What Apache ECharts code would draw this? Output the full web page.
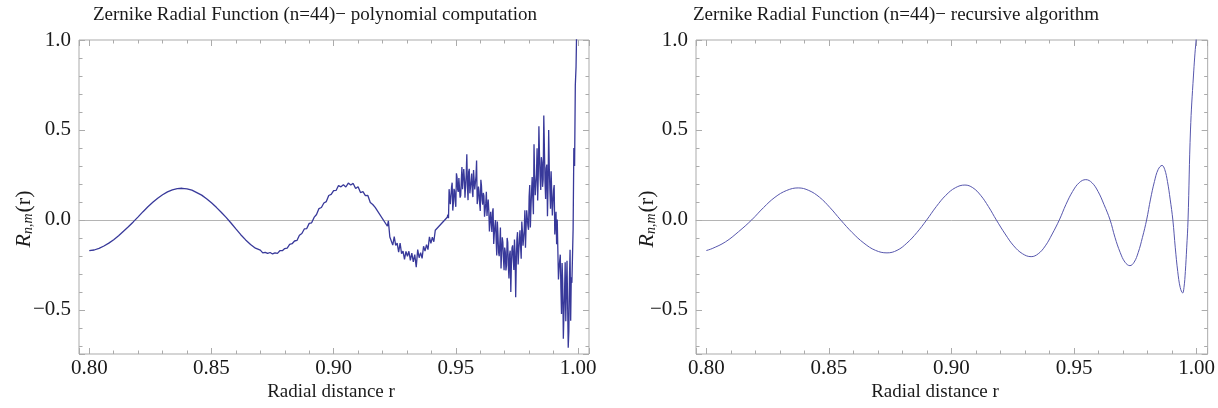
<!DOCTYPE html>
<html><head><meta charset="utf-8">
<script src="https://cdn.jsdelivr.net/npm/echarts@6/dist/echarts.min.js"></script>
<style>html,body{margin:0;padding:0;background:#fff}#c{width:1218px;height:408px}</style>
</head><body><div id="c"></div>
<script>
// ---- data ----
const titles = ['Zernike Radial Function (n=44)\u2212 polynomial computation',
                'Zernike Radial Function (n=44)\u2212 recursive algorithm'];
const xAxisTitle = 'Radial distance r';
const yAxisTitle = '{i|R}{s|n,m}{t|(r)}';
const xTickLabels = ['0.80', '0.85', '0.90', '0.95', '1.00'];
const yTickLabels = ['\u22120.5', '0.0', '0.5', '1.0'];

// left panel: polynomial computation (noisy)
const polyR = [
0.800,0.802,0.804,0.806,0.808,0.810,0.812,0.814,0.816,0.818,
0.820,0.822,0.824,0.826,0.828,0.830,0.832,0.834,0.836,0.838,
0.840,0.842,0.844,0.846,0.848,0.850,0.852,0.854,0.856,0.858,
0.860,0.862,0.864,0.866,0.868,
0.870,0.871,0.872,0.873,0.874,0.875,0.876,0.877,0.878,0.879,
0.880,0.881,0.882,0.883,0.884,0.885,0.886,0.887,0.888,0.889,
0.890,0.891,0.892,0.893,0.894,0.895,0.896,0.897,0.898,0.899,
0.900,0.901,0.902,0.903,0.904,0.905,0.906,0.907,0.908,0.909,
0.910,0.911,0.912,0.913,0.914,0.915,0.916,0.917,
0.9220,0.9224,0.9230,0.9236,0.9242,0.9248,0.9254,0.9260,0.9266,0.9272,
0.9278,0.9284,0.9290,0.9296,0.9302,0.9308,0.9314,0.9320,0.9326,0.9332,
0.9338,0.9344,0.9350,0.9356,0.9362,0.9368,0.9374,0.9380,0.9386,0.9392,
0.9398,0.9404,0.9410,0.9416,
0.94650,0.94675,0.94700,0.94725,0.94750,0.94775,0.94800,0.94825,0.94850,0.94875,
0.94900,0.94925,0.94950,0.94975,0.95000,0.95025,0.95050,0.95075,0.95100,0.95125,
0.95150,0.95175,0.95200,0.95225,0.95250,0.95275,0.95300,0.95325,0.95350,0.95375,
0.95400,0.95425,0.95450,0.95475,0.95500,0.95525,0.95550,0.95575,0.95600,0.95625,
0.95650,0.95675,0.95700,0.95725,0.95750,0.95775,0.95800,0.95825,0.95850,0.95875,
0.95900,0.95925,0.95950,0.95975,0.96000,0.96025,0.96050,0.96075,0.96100,0.96125,
0.96150,0.96175,0.96200,0.96225,0.96250,0.96275,0.96300,0.96325,0.96350,0.96375,
0.96400,0.96425,0.96450,0.96475,0.96500,0.96525,0.96550,0.96575,0.96600,0.96625,
0.96650,0.96675,0.96700,0.96725,0.96750,0.96775,0.96800,0.96825,0.96850,0.96875,
0.96900,0.96925,0.96950,0.96975,0.97000,0.97025,0.97050,0.97075,0.97100,0.97125,
0.97150,0.97175,0.97200,0.97225,0.97250,0.97275,0.97300,0.97325,0.97350,0.97375,
0.97400,0.97425,0.97450,0.97475,0.97500,0.97525,0.97550,0.97575,0.97600,0.97625,
0.97650,0.97675,0.97700,0.97725,0.97750,0.97775,0.97800,0.97825,0.97850,0.97875,
0.97900,0.97925,0.97950,0.97975,0.98000,0.98025,0.98050,0.98075,0.98100,0.98125,
0.98150,0.98175,0.98200,0.98225,0.98250,0.98275,0.98300,0.98325,0.98350,0.98375,
0.98400,0.98425,0.98450,0.98475,0.98500,0.98525,0.98550,0.98575,0.98600,0.98625,
0.98650,0.98675,0.98700,0.98725,0.98750,0.98775,0.98800,0.98825,0.98850,0.98875,
0.98900,0.98925,0.98950,0.98975,0.99000,0.99025,0.99050,0.99075,0.99100,0.99125,
0.99150,0.99175,0.99200,0.99225,0.99250,0.99275,0.99300,0.99325,0.99350,0.99375,
0.99400,0.99425,0.99450,0.99475,0.99500,0.99525,0.99550,0.99575,0.99600,0.99625,
0.99650,0.99675,0.99700,0.99725,0.99750,
0.9980,0.9983,0.9986,0.9989,0.9992,0.9995
];
const polyV = [
-0.171,-0.167,-0.158,-0.145,-0.129,-0.110,-0.088,-0.063,-0.038,-0.011,
0.017,0.046,0.073,0.098,0.121,0.140,0.156,0.167,0.174,0.176,
0.173,0.166,0.152,0.138,0.118,0.095,0.070,0.043,0.014,-0.017,
-0.050,-0.082,-0.111,-0.136,-0.157,
-0.168,-0.183,-0.180,-0.186,-0.181,-0.189,-0.183,-0.186,-0.171,-0.171,
-0.159,-0.156,-0.136,-0.132,-0.117,-0.114,-0.085,-0.075,-0.050,-0.048,
-0.019,-0.016,0.014,0.030,0.063,0.069,0.094,0.102,0.136,0.142,
0.163,0.164,0.191,0.184,0.195,0.183,0.205,0.194,0.203,0.175,
0.185,0.152,0.157,0.135,0.136,0.097,0.086,0.070,
-0.035,-0.005,-0.095,-0.087,-0.140,-0.093,-0.142,-0.129,-0.179,-0.129,
-0.187,-0.173,-0.219,-0.175,-0.202,-0.174,-0.225,-0.184,-0.233,-0.193,
-0.262,-0.165,-0.210,-0.182,-0.214,-0.146,-0.173,-0.137,-0.165,-0.094,
-0.130,-0.096,-0.121,-0.057,
0.015,0.029,0.010,0.171,0.125,0.087,0.094,0.182,0.207,0.052,
0.095,0.173,0.161,0.104,0.073,0.259,0.237,0.170,0.156,0.233,
0.228,0.124,0.136,0.220,0.294,0.171,0.173,0.283,0.230,0.123,
0.133,0.251,0.365,0.188,0.110,0.267,0.284,0.148,0.155,0.216,
0.258,0.157,0.127,0.277,0.219,0.170,0.165,0.242,0.330,0.088,
0.118,0.185,0.161,0.092,0.050,0.223,0.189,0.110,0.085,0.150,
0.134,0.018,0.019,0.092,0.156,0.022,0.014,0.114,0.052,-0.064,
-0.064,0.045,0.045,-0.067,0.043,0.065,-0.133,-0.078,-0.033,0.000,
-0.110,-0.197,-0.009,-0.084,-0.181,-0.201,-0.133,-0.042,-0.270,-0.178,
-0.097,-0.125,-0.219,-0.280,-0.153,-0.179,-0.281,-0.251,-0.100,-0.124,
-0.258,-0.325,-0.193,-0.171,-0.400,-0.245,-0.155,-0.141,-0.215,-0.278,
-0.109,-0.181,-0.430,-0.235,-0.108,-0.068,-0.248,-0.174,-0.111,-0.058,
-0.148,-0.216,-0.009,-0.065,-0.143,-0.143,-0.055,0.054,-0.155,-0.045,
0.054,0.043,-0.033,-0.055,0.129,0.194,-0.042,0.067,0.160,0.238,
0.121,0.032,0.420,0.243,0.137,0.135,0.252,0.398,0.108,0.251,
0.520,0.354,0.239,0.167,0.349,0.319,0.184,0.227,0.580,0.399,
0.213,0.116,0.288,0.308,0.020,0.180,0.500,0.288,0.168,0.062,
0.271,0.148,0.025,0.022,0.168,0.194,-0.081,-0.010,0.045,-0.135,
0.002,0.005,-0.331,-0.271,-0.227,-0.193,-0.380,-0.523,-0.240,-0.354,
-0.660,-0.519,-0.400,-0.235,-0.563,-0.387,-0.227,-0.227,-0.710,-0.620,
-0.329,-0.166,-0.560,-0.318,-0.350,
-0.050,0.400,0.300,0.750,0.850,1.100
];

// right panel: recursive algorithm (smooth)
const recR = [
0.800,0.8024,0.8078,0.8131,0.8185,0.8233,0.8280,0.8328,0.8375,0.8418,
0.8462,0.8505,0.8548,0.8595,0.8643,0.8690,0.8737,0.8778,0.8818,0.8859,
0.8899,0.8938,0.8977,0.9016,0.9055,0.9087,0.9119,0.9151,0.9183,0.9219,
0.9254,0.9290,0.9325,0.9354,0.9383,0.9411,0.9440,0.9467,0.9494,0.9521,
0.9548,0.9573,0.9598,0.9622,0.9647,0.9667,0.9688,0.9708,0.9728,0.9745,
0.9762,0.9779,0.9796,0.9812,0.9828,0.9843,0.9859,0.9870,0.9881,0.9892,
0.9903,0.9913,0.9923,0.9933,0.9943,0.99485,0.9954,0.99595,0.9965,0.9975,
0.9987,0.9998,1.0004
];
const recV = [
-0.170,-0.159,-0.122,-0.066,0.000,0.068,0.126,0.164,0.178,0.164,
0.126,0.068,0.000,-0.070,-0.129,-0.169,-0.183,-0.169,-0.129,-0.070,
0.000,0.074,0.137,0.179,0.194,0.179,0.137,0.074,0.000,-0.078,
-0.144,-0.188,-0.204,-0.188,-0.144,-0.078,0.000,0.086,0.158,0.207,
0.224,0.207,0.158,0.086,0.000,-0.097,-0.180,-0.235,-0.254,-0.235,
-0.180,-0.097,0.000,0.116,0.214,0.280,0.303,0.280,0.214,0.116,
0.000,-0.155,-0.287,-0.375,-0.406,-0.375,-0.287,-0.155,0.000,0.500,
0.800,1.000,1.050
];

// ---- chart ----
const SERIF = '"Liberation Serif", "DejaVu Serif", serif';
const FRAME = '#ababab';
const TEXT = '#1a1a1a';
const X_MIN = 0.7958, X_MAX = 1.0045, Y_MIN = -0.745, Y_MAX = 1.0;

function xLabel(v) {
  const k = Math.round(v / 0.05);
  if (Math.abs(v - k * 0.05) > 1e-6) return '';
  const i = k - 16;
  return (i >= 0 && i < xTickLabels.length) ? xTickLabels[i] : '';
}
function yLabel(v) {
  const k = Math.round(v / 0.5);
  if (Math.abs(v - k * 0.5) > 1e-6) return '';
  const i = k + 1;
  return (i >= 0 && i < yTickLabels.length) ? yTickLabels[i] : '';
}
const tickStyle = { show: true, inside: true, length: 6, lineStyle: { color: FRAME, width: 1 } };
const minorStyle = { show: true, length: 3.5, lineStyle: { color: FRAME, width: 1 } };

function makeX(gridIndex, yIdx) {
  const base = { type: 'value', gridIndex, min: X_MIN, max: X_MAX, splitNumber: 4,
    splitLine: { show: false } };
  return [
    Object.assign({}, base, { position: 'bottom',
      axisLine: { show: false, onZero: false },
      axisTick: tickStyle, minorTick: Object.assign({ splitNumber: 5 }, minorStyle),
      axisLabel: { formatter: xLabel, fontFamily: SERIF, fontSize: 21, color: TEXT, margin: 4 } }),
    Object.assign({}, base, { position: 'top',
      axisLine: { show: false, onZero: false },
      axisTick: tickStyle, minorTick: Object.assign({ splitNumber: 5 }, minorStyle),
      axisLabel: { show: false } }),
    Object.assign({}, base, { position: 'bottom',
      axisLine: { show: true, onZero: true, onZeroAxisIndex: yIdx, lineStyle: { color: '#b4b4b4', width: 1 } },
      axisTick: { show: false }, minorTick: { show: false }, axisLabel: { show: false } })
  ];
}
function makeY(gridIndex) {
  const base = { type: 'value', gridIndex, min: Y_MIN, max: Y_MAX, splitNumber: 3,
    splitLine: { show: false }, axisLine: { show: false, onZero: false },
    axisTick: tickStyle, minorTick: Object.assign({ splitNumber: 5 }, minorStyle) };
  return [
    Object.assign({}, base, { position: 'left',
      axisLabel: { formatter: yLabel, fontFamily: SERIF, fontSize: 21, color: TEXT, margin: 8 } }),
    Object.assign({}, base, { position: 'right', axisLabel: { show: false } })
  ];
}
const yNameRich = {
  i: { fontFamily: SERIF, fontStyle: 'italic', fontSize: 22, fill: TEXT, color: TEXT, verticalAlign: 'bottom', lineHeight: 26 },
  s: { fontFamily: SERIF, fontStyle: 'italic', fontSize: 14, fill: TEXT, color: TEXT, verticalAlign: 'bottom', lineHeight: 18, padding: [0, 1, 0, 0] },
  t: { fontFamily: SERIF, fontSize: 22, fill: TEXT, color: TEXT, verticalAlign: 'bottom', lineHeight: 26 }
};
function yName(x) {
  return { type: 'text', x: x, y: 219, rotation: Math.PI / 2, silent: true,
    style: { text: yAxisTitle, rich: yNameRich, align: 'center', verticalAlign: 'middle', fill: TEXT } };
}
function xName(x) {
  return { type: 'text', x: x, y: 392, silent: true,
    style: { text: xAxisTitle, font: '19px ' + SERIF, fill: TEXT, align: 'center', verticalAlign: 'middle' } };
}

const chart = echarts.init(document.getElementById('c'), null, { renderer: 'canvas' });
chart.setOption({
  animation: false,
  backgroundColor: '#ffffff',
  title: [
    { text: titles[0], left: 88, top: 1, textStyle: { fontFamily: SERIF, fontSize: 19, fontWeight: 'normal', color: TEXT } },
    { text: titles[1], left: 688, top: 1, textStyle: { fontFamily: SERIF, fontSize: 19, fontWeight: 'normal', color: TEXT } }
  ],
  grid: [
    { left: 79, top: 40, width: 510, height: 314, show: true, borderColor: FRAME, borderWidth: 1, backgroundColor: 'transparent' },
    { left: 696, top: 40, width: 515, height: 314, show: true, borderColor: FRAME, borderWidth: 1, backgroundColor: 'transparent' }
  ],
  xAxis: [].concat(makeX(0, 0), makeX(1, 2)),
  yAxis: [].concat(makeY(0), makeY(1)),
  graphic: [yName(22), yName(645), xName(331), xName(935)],
  series: [
    { type: 'line', xAxisIndex: 0, yAxisIndex: 0, symbol: 'none', showSymbol: false, clip: true,
      lineStyle: { color: '#38399a', width: 1.3 },
      data: polyR.map((r, i) => [r, polyV[i]]) },
    { type: 'line', xAxisIndex: 3, yAxisIndex: 2, symbol: 'none', showSymbol: false, clip: true, smooth: 0.4,
      lineStyle: { color: '#5757ad', width: 1 },
      data: recR.map((r, i) => [r, recV[i]]) }
  ]
});
</script></body></html>
